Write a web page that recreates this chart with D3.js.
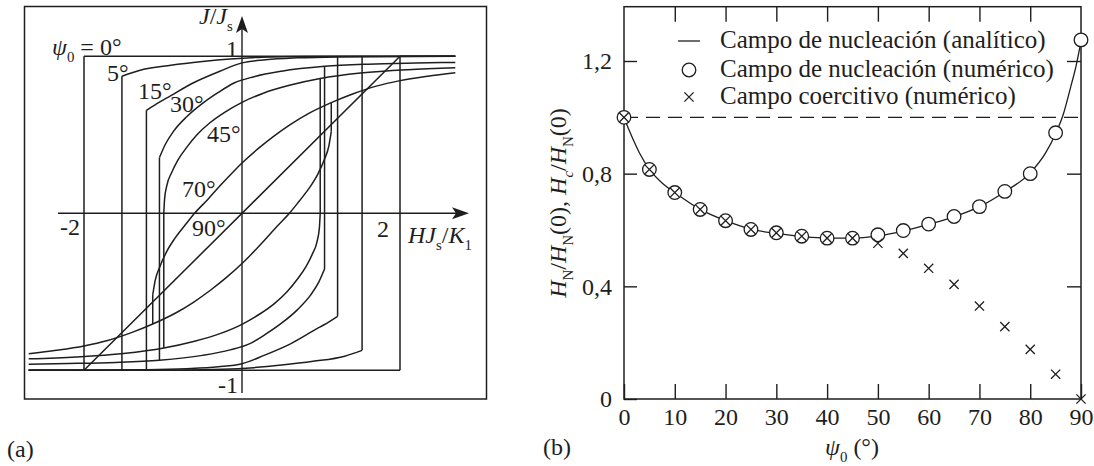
<!DOCTYPE html>
<html>
<head>
<meta charset="utf-8">
<script src="https://cdn.jsdelivr.net/npm/d3@7"></script>
<style>
  body { margin: 0; background: #fff; }
  svg { display: block; font-family: "Liberation Serif", "Times New Roman", serif; }
  text { fill: #1e1e1e; }
</style>
</head>
<body>
<svg id="chart" width="1094" height="466"></svg>
<script>
// ---------- panel (a) : loops J/Js vs H Js/K1 ----------
// upper branch of each loop, from the switching point to the right edge
// (the lower branch is the same curve mirrored through the origin)
const loopAngles = [0, 5, 15, 30, 45, 70];
const switchFields = [2.0, 1.52, 1.21, 1.045, 0.99, 1.13];
const upper0 = [[-2, 1], [2, 1], [2.7, 1]];
const upper5 = [[-1.52, 0.873], [-1.3, 0.91], [-0.9, 0.943], [-0.5, 0.967], [-0.15, 0.983], [0.25, 0.994], [0.8, 0.999], [1.52, 1.0], [2.7, 1.0]];
const upper15 = [[-1.21, 0.656], [-1.04, 0.71], [-0.95, 0.735], [-0.62, 0.83], [-0.28, 0.905], [0, 0.958], [0.3, 0.978], [0.7, 0.99], [1.21, 0.996], [2.7, 1.0]];
const upper30 = [[-1.045, 0.355], [-0.97, 0.44], [-0.87, 0.52], [-0.7, 0.615], [-0.5, 0.7], [-0.3, 0.77], [-0.1, 0.83], [0.15, 0.87], [0.5, 0.905], [1.045, 0.936], [1.6, 0.95], [2.2, 0.957], [2.7, 0.961]];
const upper45 = [[-0.99, 0], [-0.98, 0.09], [-0.95, 0.18], [-0.89, 0.26], [-0.81, 0.34], [-0.7, 0.42], [-0.57, 0.5], [-0.41, 0.575], [-0.22, 0.643], [0, 0.707], [0.27, 0.765], [0.6, 0.815], [0.99, 0.858], [1.5, 0.893], [2.1, 0.915], [2.7, 0.927]];
const upper70 = [[-1.13, -0.52], [-1.1, -0.43], [-1.04, -0.34], [-0.96, -0.25], [-0.85, -0.16], [-0.72, -0.075], [-0.6, 0.0], [-0.43, 0.09], [-0.27, 0.18], [-0.1, 0.27], [0, 0.32], [0.2, 0.41], [0.4, 0.49], [0.61, 0.565], [0.84, 0.635], [1.13, 0.705], [1.4, 0.76], [1.7, 0.81], [2.0, 0.845], [2.35, 0.873], [2.7, 0.895]];
const line90 = [[-2.7, -1], [-2, -1], [2, 1], [2.7, 1]];
const upperBranches = [upper0, upper5, upper15, upper30, upper45, upper70];

// ---------- panel (b) : nucleation / coercive field ----------
const psiNum = [0, 5, 10, 15, 20, 25, 30, 35, 40, 45, 50, 55, 60, 65, 70, 75, 80, 85, 90];
const nucleationNum = [1.0, 0.815, 0.733, 0.673, 0.633, 0.602, 0.59, 0.578, 0.571, 0.571, 0.583, 0.598, 0.621, 0.648, 0.683, 0.737, 0.8, 0.945, 1.275];
const coerciveNum = [1.0, 0.815, 0.733, 0.673, 0.633, 0.602, 0.59, 0.578, 0.571, 0.571, 0.553, 0.517, 0.464, 0.407, 0.33, 0.257, 0.176, 0.088, 0.0];
const psiAnalytic = [0, 1, 2, 3, 5, 7.5, 10, 15, 20, 25, 30, 35, 40, 45, 50, 55, 60, 65, 70, 75, 80, 83, 85, 86.5, 88, 89, 90];
const nucleationAnalytic = [1.0, 0.955, 0.913, 0.875, 0.815, 0.767, 0.733, 0.673, 0.633, 0.603, 0.588, 0.577, 0.571, 0.571, 0.579, 0.596, 0.62, 0.647, 0.683, 0.736, 0.803, 0.873, 0.942, 1.01, 1.11, 1.18, 1.27];
const xTicksB = [0, 10, 20, 30, 40, 50, 60, 70, 80, 90];
const yTicksB = [0, 0.4, 0.8, 1.2];
const legendLabels = ["Campo de nucleación (analítico)", "Campo de nucleación (numérico)", "Campo coercitivo (numérico)"];

const ink = "#1e1e1e";
const svg = d3.select("#chart");

// text with italic parts and subscripts
function rich(g, x, y, parts, size, anchor, transform) {
    const t = g.append("text")
        .attr("x", x).attr("y", y)
        .attr("font-size", size)
        .attr("text-anchor", anchor || "start");
    if (transform) t.attr("transform", transform);
    let shifted = 0;
    parts.forEach(p => {
        const s = t.append("tspan").text(p.t);
        const want = p.sub ? size * 0.28 : 0;
        s.attr("dy", want - shifted);
        shifted = want;
        if (p.sub) s.attr("font-size", size * 0.62);
        if (p.i) s.attr("font-style", "italic");
    });
    return t;
}

// ================= panel (a) =================
const xA = d3.scaleLinear().domain([-2, 2]).range([84, 400]);
const yA = d3.scaleLinear().domain([-1, 1]).range([370.3, 56.3]);
const ga = svg.append("g");

ga.append("rect")
    .attr("x", 24.5).attr("y", 6.5).attr("width", 462).attr("height", 392.5)
    .attr("fill", "none").attr("stroke", ink).attr("stroke-width", 1.5);

// axes with arrows
ga.append("line")
    .attr("x1", 58).attr("x2", 460).attr("y1", yA(0)).attr("y2", yA(0))
    .attr("stroke", ink).attr("stroke-width", 1.4);
ga.append("line")
    .attr("x1", xA(0)).attr("x2", xA(0)).attr("y1", 393).attr("y2", 26)
    .attr("stroke", ink).attr("stroke-width", 1.4);
const ax0 = xA(0), ay0 = yA(0);
ga.append("path")
    .attr("d", `M469,${ay0} L452,${ay0 - 6} L456,${ay0} L452,${ay0 + 6} Z`)
    .attr("fill", ink);
ga.append("path")
    .attr("d", `M${ax0},16 L${ax0 - 6},33 L${ax0},29 L${ax0 + 6},33 Z`)
    .attr("fill", ink);

const curveA = d3.line()
    .x(d => xA(d[0]))
    .y(d => yA(d[1]))
    .curve(d3.curveMonotoneX);
const straightA = d3.line()
    .x(d => xA(d[0]))
    .y(d => yA(d[1]));

const loops = ga.append("g")
    .attr("fill", "none")
    .attr("stroke", ink)
    .attr("stroke-width", 1.5)
    .attr("stroke-linejoin", "round");

upperBranches.forEach((up, i) => {
    const sw = switchFields[i];
    const lower = up.map(d => [-d[0], -d[1]]).reverse();
    const jStart = up[0][1];
    const jAtSw = up.find(d => d[0] === sw)[1];
    loops.append("path").attr("d", curveA(up));
    loops.append("path").attr("d", curveA(lower));
    // jumps at the switching fields
    loops.append("path").attr("d", straightA([[-sw, jStart], [-sw, -jAtSw]]));
    loops.append("path").attr("d", straightA([[sw, -jStart], [sw, jAtSw]]));
});
loops.append("path").attr("d", straightA(line90));

// labels of panel (a)
const fa = 24;
rich(ga, 199, 24, [{ t: "J", i: true }, { t: "/" }, { t: "J", i: true }, { t: "s", sub: true }], fa);
rich(ga, 238, 57, [{ t: "1" }], fa, "end");
rich(ga, 238, 393, [{ t: "-1" }], fa, "end");
rich(ga, 60, 235, [{ t: "-2" }], fa);
rich(ga, 377, 237, [{ t: "2" }], fa);
rich(ga, 408, 243, [{ t: "H", i: true }, { t: "J", i: true }, { t: "s", sub: true }, { t: "/" }, { t: "K", i: true }, { t: "1", sub: true }], fa);
rich(ga, 52, 55, [{ t: "ψ", i: true }, { t: "0", sub: true }, { t: " = 0°" }], fa);
const angleLabels = [["5°", 107, 81], ["15°", 138, 99], ["30°", 170, 112], ["45°", 207, 142], ["70°", 182, 197], ["90°", 192, 236]];
angleLabels.forEach(d => rich(ga, d[1], d[2], [{ t: d[0] }], fa));
rich(ga, 7, 457, [{ t: "(a)" }], fa);

// ================= panel (b) =================
const xB = d3.scaleLinear().domain([0, 90]).range([624, 1081]);
const yB = d3.scaleLinear().domain([0, 1.2]).range([399, 61]);
const gb = svg.append("g");
const fb = 24;

const fmt = d => d === 0 ? "0" : d3.format(".1f")(d).replace(".", ",");

const axBottom = gb.append("g").attr("transform", "translate(0,399)")
    .call(d3.axisBottom(xB).tickValues(xTicksB).tickSize(-15).tickSizeOuter(0).tickPadding(9));
const axTop = gb.append("g").attr("transform", "translate(0,6.7)")
    .call(d3.axisTop(xB).tickValues(xTicksB.slice(1, -1)).tickSize(-15).tickSizeOuter(0).tickFormat(""));
const axLeft = gb.append("g").attr("transform", "translate(624,0)")
    .call(d3.axisLeft(yB).tickValues(yTicksB).tickSize(-13).tickSizeOuter(0).tickPadding(12).tickFormat(fmt));
const axRight = gb.append("g").attr("transform", "translate(1081,0)")
    .call(d3.axisRight(yB).tickValues(yTicksB.slice(1)).tickSize(-14).tickSizeOuter(0).tickFormat(""));
[axBottom, axTop, axLeft, axRight].forEach(a => {
    a.select(".domain").remove();
    a.selectAll("line").attr("stroke", ink).attr("stroke-width", 1.4);
    a.selectAll("text")
        .attr("font-family", "Liberation Serif, serif")
        .attr("font-size", fb)
        .attr("fill", ink);
});

gb.append("rect")
    .attr("x", 624).attr("y", 6.7).attr("width", 457).attr("height", 392.3)
    .attr("fill", "none").attr("stroke", ink).attr("stroke-width", 1.5);

// reference level 1
gb.append("line")
    .attr("x1", xB(0)).attr("x2", xB(90)).attr("y1", yB(1)).attr("y2", yB(1))
    .attr("stroke", ink).attr("stroke-width", 1.3).attr("stroke-dasharray", "14,8");

const analytic = psiAnalytic.map((p, i) => [p, nucleationAnalytic[i]]);
gb.append("path")
    .attr("d", d3.line().x(d => xB(d[0])).y(d => yB(d[1])).curve(d3.curveMonotoneX)(analytic))
    .attr("fill", "none").attr("stroke", ink).attr("stroke-width", 1.3);

gb.append("g").selectAll("circle")
    .data(psiNum.map((p, i) => [p, nucleationNum[i]]))
    .join("circle")
    .attr("cx", d => xB(d[0])).attr("cy", d => yB(d[1])).attr("r", 6.8)
    .attr("fill", "#fff").attr("stroke", ink).attr("stroke-width", 1.3);

const cross = (x, y, s) => `M${x - s},${y - s}L${x + s},${y + s}M${x - s},${y + s}L${x + s},${y - s}`;
gb.append("g").selectAll("path")
    .data(psiNum.map((p, i) => [p, coerciveNum[i]]))
    .join("path")
    .attr("d", d => cross(xB(d[0]), yB(d[1]), 4.6))
    .attr("stroke", ink).attr("stroke-width", 1.3);

// legend
const legY = [41, 70, 97];
gb.append("line").attr("x1", 678).attr("x2", 700).attr("y1", legY[0]).attr("y2", legY[0])
    .attr("stroke", ink).attr("stroke-width", 1.3);
gb.append("circle").attr("cx", 689).attr("cy", legY[1]).attr("r", 6.8)
    .attr("fill", "#fff").attr("stroke", ink).attr("stroke-width", 1.3);
gb.append("path").attr("d", cross(689, legY[2], 4.6)).attr("stroke", ink).attr("stroke-width", 1.3);
legendLabels.forEach((l, i) => rich(gb, 720, legY[i] + 7, [{ t: l }], 25));

// axis titles
rich(gb, 852, 455, [{ t: "ψ", i: true }, { t: "0", sub: true }, { t: " (°)" }], fb, "middle");
rich(gb, 0, 0, [
    { t: "H", i: true }, { t: "N", sub: true }, { t: "/" }, { t: "H", i: true }, { t: "N", sub: true }, { t: "(0), " },
    { t: "H", i: true }, { t: "c", sub: true, i: true }, { t: "/" }, { t: "H", i: true }, { t: "N", sub: true }, { t: "(0)" }
], fb, "middle", "translate(566,203) rotate(-90)");
rich(gb, 543, 455, [{ t: "(b)" }], fb);
</script>
</body>
</html>
